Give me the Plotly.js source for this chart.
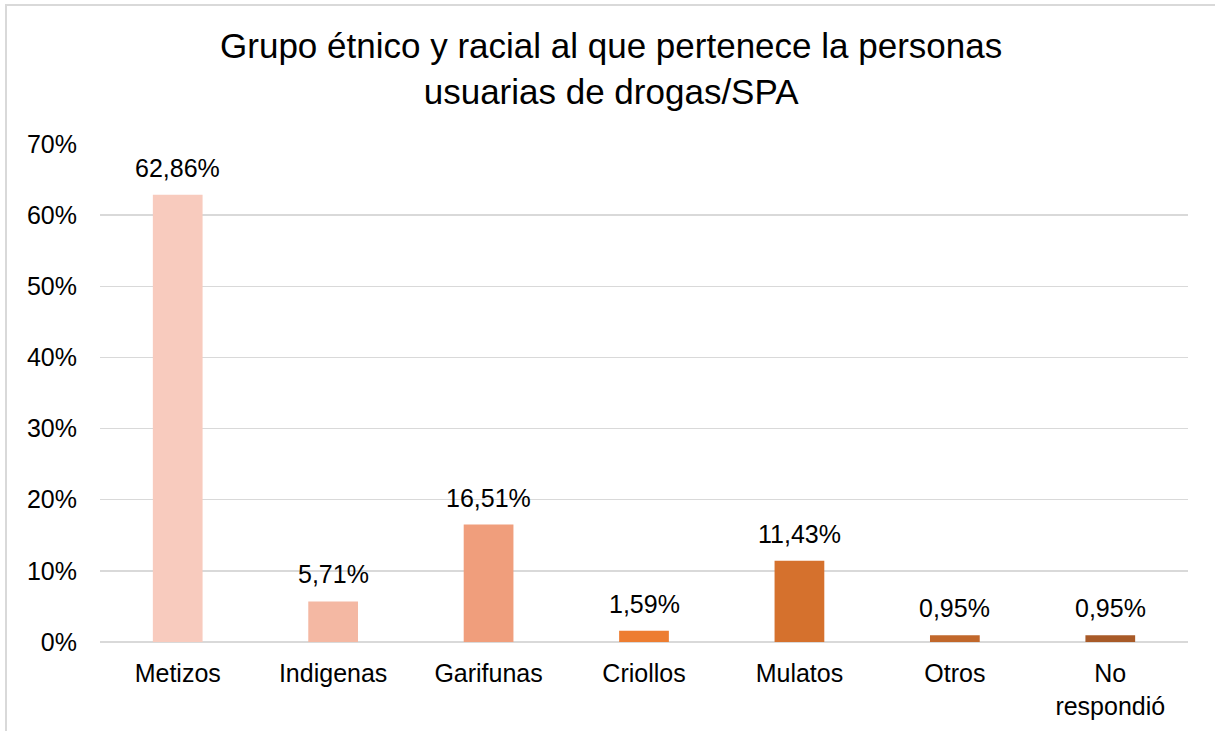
<!DOCTYPE html>
<html>
<head>
<meta charset="utf-8">
<script src="https://cdn.plot.ly/plotly-3.0.1.min.js"></script>
<style>
html,body{margin:0;padding:0;background:#fff;}
#wrap{position:relative;width:1215px;height:731px;overflow:hidden;}
#chart{position:absolute;left:0;top:0;width:1215px;height:731px;z-index:1;}
#frame{position:absolute;left:5px;top:4px;width:1300px;height:800px;border-left:2px solid #d9d9d9;border-top:2px solid #d9d9d9;pointer-events:none;z-index:10;}
</style>
</head>
<body>
<div id="wrap"><div id="chart"></div><div id="frame"></div></div>
<script>
const categories = ["Metizos", "Indigenas", "Garifunas", "Criollos", "Mulatos", "Otros", "No<br>respondió"];
const values = [62.86, 5.71, 16.51, 1.59, 11.43, 0.95, 0.95];
const barColors = ["#F8CBBE", "#F4B8A3", "#F09E7C", "#ED7D31", "#D5712D", "#C1672B", "#A85A28"];
const yTicks = [0, 10, 20, 30, 40, 50, 60, 70];
const labels = values.map(v => v.toFixed(2).replace('.', ',') + '%');

const font = "Liberation Sans, Arial, sans-serif";

const trace = {
  type: 'bar',
  x: categories,
  y: values,
  marker: {color: barColors},
  width: 0.32,
  hoverinfo: 'none'
};

const annotations = categories.map((c, i) => ({
  x: c, y: values[i], xref: 'x', yref: 'y',
  text: labels[i], showarrow: false,
  yanchor: 'bottom', yshift: 11,
  font: {family: font, size: 25, color: '#000'}
}));

const layout = {
  width: 1215, height: 731,
  margin: {l: 100, r: 27, t: 144, b: 89},
  paper_bgcolor: '#fff', plot_bgcolor: '#fff',
  showlegend: false,
  title: {
    text: 'Grupo étnico y racial al que pertenece la personas<br>usuarias de drogas/SPA',
    font: {family: font, size: 35, color: '#000'},
    x: 0.503, xanchor: 'center',
    y: 1 - 58/731, yanchor: 'top', yref: 'container'
  },
  xaxis: {
    type: 'category',
    showgrid: false, zeroline: false, showline: false,
    ticks: '', ticklabelstandoff: 14,
    tickfont: {family: font, size: 25, color: '#000'},
    fixedrange: true
  },
  yaxis: {
    range: [0, 70],
    tickvals: yTicks,
    ticktext: yTicks.map(t => t + '%'),
    showgrid: true, gridcolor: '#d9d9d9', gridwidth: 1.5,
    zeroline: true, zerolinecolor: '#d9d9d9', zerolinewidth: 1.5,
    showline: false, ticks: '', ticklabelstandoff: 22,
    tickfont: {family: font, size: 25, color: '#000'},
    fixedrange: true
  },
  annotations: annotations
};

Plotly.newPlot('chart', [trace], layout, {displayModeBar: false, staticPlot: true});
</script>
</body>
</html>
